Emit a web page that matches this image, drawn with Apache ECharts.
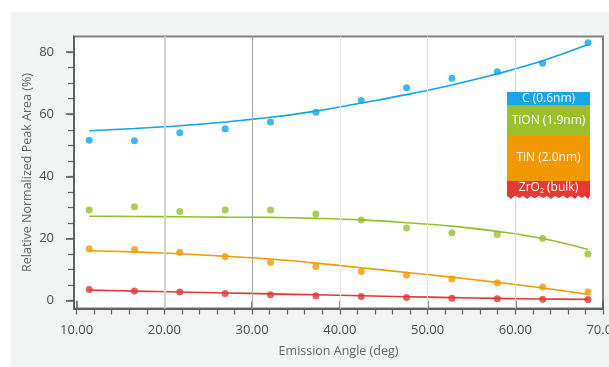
<!DOCTYPE html>
<html>
<head>
<meta charset="utf-8">
<script src="https://cdn.jsdelivr.net/npm/echarts@6/dist/echarts.min.js"></script>
<style>
  html, body { margin: 0; padding: 0; background: #ffffff; }
  #chart { width: 609px; height: 367px; }
</style>
</head>
<body>
<div id="chart"></div>
<script>
// Emission angles (deg) of the angle-resolved measurements
const angles = [11.43, 16.59, 21.76, 26.93, 32.10, 37.27, 42.44, 47.61, 52.78, 57.95, 63.12, 68.29];

// Measured relative peak areas (%) per layer
const cMeasured    = [51.6, 51.5, 54.0, 55.3, 57.5, 60.6, 64.4, 68.5, 71.6, 73.7, 76.4, 83.0];
const tionMeasured = [29.2, 30.2, 28.7, 29.2, 29.2, 27.9, 26.0, 23.4, 21.9, 21.3, 20.0, 15.0];
const tinMeasured  = [16.7, 16.5, 15.6, 14.2, 12.3, 11.0, 9.4, 8.3, 7.0, 5.7, 4.4, 2.8];
const zrMeasured   = [3.6, 3.1, 2.8, 2.3, 1.9, 1.6, 1.4, 1.05, 0.8, 0.6, 0.5, 0.4];

// Model fit curves (%) for the layer stack
const cFit    = [54.7, 55.4, 56.3, 57.5, 59.0, 61.0, 63.6, 66.3, 69.4, 73.0, 77.2, 82.4];
const tionFit = [27.2, 27.1, 27.0, 26.9, 26.8, 26.5, 26.0, 25.1, 24.0, 22.3, 20.0, 16.5];
const tinFit  = [16.1, 15.7, 15.1, 14.3, 13.4, 12.1, 10.6, 9.1, 7.6, 5.9, 4.1, 2.0];
const zrFit   = [3.4, 3.1, 2.8, 2.5, 2.2, 1.9, 1.6, 1.3, 1.0, 0.75, 0.55, 0.45];

// Axis ticks
const xMajorTicks = [10, 20, 30, 40, 50, 60, 70];
const xMinorTicks = [10, 12, 14, 16, 18, 20, 22, 24, 26, 28, 30, 32, 34, 36, 38, 40, 42, 44, 46, 48, 50, 52, 54, 56, 58, 60, 62, 64, 66, 68, 70];
const yMajorTicks = [0, 20, 40, 60, 80];
const yMinorTicks = [0, 5, 10, 15, 20, 25, 30, 35, 40, 45, 50, 55, 60, 65, 70, 75, 80];
const xGridValues = [20, 30, 40, 50, 60];
const xGridColors = ['#d2d2d2', '#ababab', '#e6e6e6', '#e2e2e2', '#d9d9d9'];

const layerNames = ['C (0.6nm)', 'TiON (1.9nm)', 'TiN (2.0nm)', 'ZrO{sub|2} (bulk)'];

const colors = {
  c: '#0ea5e9',
  tion: '#93c02a',
  tin: '#f39800',
  zr: '#e53535'
};
const legendColors = ['#17a7e8', '#9cbf2d', '#f29900', '#e73833'];

const FONT = '"Open Sans", "Noto Sans", sans-serif';

function pairs(ys) {
  return angles.map((x, i) => [x, ys[i]]);
}

function fitSeries(name, ys, color) {
  return {
    name: name, type: 'line', data: pairs(ys), smooth: 0.4,
    showSymbol: false, symbol: 'none', z: 3,
    lineStyle: { color: color, width: 1.6 }
  };
}
function pointSeries(name, ys, color) {
  return {
    name: name, type: 'scatter', data: pairs(ys), symbolSize: 7, z: 4,
    itemStyle: { color: color }
  };
}

// Stacked layer legend drawn at the upper right
const lx = 507, lw = 83;
const blocks = [[92, 105], [105, 135], [135, 181], [181, 196]];
const legendGraphics = [];
blocks.forEach((b, i) => {
  if (i < 3) {
    legendGraphics.push({
      type: 'rect', shape: { x: lx, y: b[0], width: lw, height: b[1] - b[0] },
      style: { fill: legendColors[i] }, z: 10
    });
  }
});
// bulk substrate block with a torn bottom edge
const torn = [[lx, 181], [lx + lw, 181], [lx + lw, 196], [lx + lw - 2, 199], [lx + lw - 5, 196], [lx + lw - 8, 198],
  [lx + lw - 12, 195.5], [lx + lw - 15, 199], [lx + lw - 19, 196], [lx + lw - 23, 198.5], [lx + lw - 27, 195.5],
  [lx + lw - 31, 198], [lx + lw - 35, 196], [lx + lw - 39, 199], [lx + lw - 43, 196], [lx + lw - 47, 198],
  [lx + lw - 51, 195.5], [lx + lw - 55, 198.5], [lx + lw - 59, 196], [lx + lw - 63, 199], [lx + lw - 67, 196],
  [lx + lw - 71, 198], [lx + lw - 75, 195.5], [lx + lw - 79, 199], [lx, 196]];
legendGraphics.push({ type: 'polygon', shape: { points: torn }, style: { fill: legendColors[3] }, z: 10 });
const textCenters = [98.5, 120.5, 158, 188];
layerNames.forEach((t, i) => {
  legendGraphics.push({
    type: 'text', x: lx + lw / 2, y: textCenters[i], z: 11,
    style: {
      text: t, fill: '#ffffff', font: '12px ' + FONT, align: 'center', verticalAlign: 'middle',
      rich: {
        sub: { fontSize: 7, fill: '#ffffff', padding: [6, 0, 0, 0], fontFamily: FONT }
      }
    }
  });
});

const chart = echarts.init(document.getElementById('chart'), null, { renderer: 'canvas' });

const option = {
  backgroundColor: '#ffffff',
  animation: false,
  textStyle: { fontFamily: FONT },
  graphic: [
    { type: 'rect', shape: { x: 11, y: 12, width: 598, height: 355 }, style: { fill: '#f2f3f3' }, z: -10 }
  ].concat(legendGraphics),
  grid: {
    left: 74, right: 6, top: 36.5, bottom: 58.5,
    outerBoundsMode: 'none', containLabel: false,
    show: true, backgroundColor: '#ffffff', borderColor: '#7d8286', borderWidth: 2
  },
  xAxis: [{
    type: 'value', min: 9.7, max: 70,
    name: 'Emission Angle (deg)', nameLocation: 'middle', nameGap: 36, nameMoveOverlap: false,
    nameTextStyle: { color: '#666666', fontSize: 12.5, fontFamily: FONT },
    axisLine: { show: true, onZero: false, lineStyle: { color: '#5e6266', width: 2 } },
    axisTick: { show: true, customValues: xMinorTicks, length: 6, lineStyle: { color: '#5e6266', width: 1.2 } },
    axisLabel: {
      customValues: xMajorTicks, margin: 15, color: '#4d4d4d', fontSize: 13, fontFamily: FONT,
      formatter: v => v.toFixed(2)
    },
    splitLine: { show: false }
  }, {
    type: 'value', min: 9.7, max: 70, position: 'bottom',
    axisLine: { show: false },
    axisTick: { show: true, customValues: xMajorTicks, length: 8, lineStyle: { color: '#5e6266', width: 1.6 } },
    axisLabel: { show: false },
    splitLine: { show: false }
  }],
  yAxis: [{
    type: 'value', min: -2.5, max: 85,
    name: 'Relative Normalized Peak Area (%)', nameLocation: 'middle', nameGap: 40, nameMoveOverlap: false,
    nameTextStyle: { color: '#666666', fontSize: 12.5, fontFamily: FONT },
    axisLine: { show: true, onZero: false, lineStyle: { color: '#5e6266', width: 2 } },
    axisTick: { show: true, customValues: yMinorTicks, length: 6, lineStyle: { color: '#5e6266', width: 1.2 } },
    axisLabel: { customValues: yMajorTicks, margin: 20, color: '#4d4d4d', fontSize: 13, fontFamily: FONT },
    splitLine: { show: false }
  }, {
    type: 'value', min: -2.5, max: 85, position: 'left',
    axisLine: { show: false },
    axisTick: { show: true, customValues: yMajorTicks, length: 8, lineStyle: { color: '#5e6266', width: 1.6 } },
    axisLabel: { show: false },
    splitLine: { show: false }
  }],
  series: [
    {
      name: 'grid', type: 'line', data: [], z: 1, silent: true,
      markLine: {
        silent: true, symbol: 'none', label: { show: false },
        data: xGridValues.map((v, i) => ({ xAxis: v, lineStyle: { color: xGridColors[i], width: i === 0 ? 2 : 1.2, type: 'solid' } }))
      }
    },
    fitSeries('C fit', cFit, colors.c),
    fitSeries('TiON fit', tionFit, colors.tion),
    fitSeries('TiN fit', tinFit, colors.tin),
    fitSeries('ZrO2 fit', zrFit, colors.zr),
    pointSeries('C', cMeasured, colors.c),
    pointSeries('TiON', tionMeasured, colors.tion),
    pointSeries('TiN', tinMeasured, colors.tin),
    pointSeries('ZrO2', zrMeasured, colors.zr)
  ]
};

chart.setOption(option);
</script>
</body>
</html>
